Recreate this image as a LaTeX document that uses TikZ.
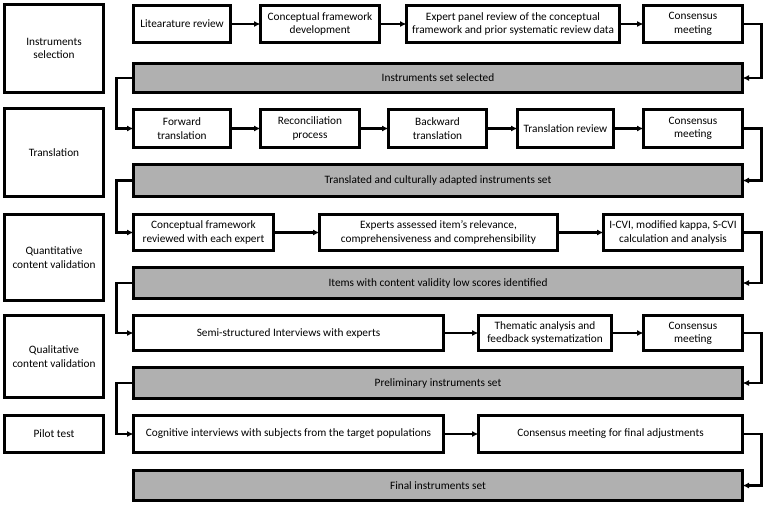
\documentclass[tikz,border=0pt]{standalone}
\usepackage{fontspec}
\setmainfont{Carlito}
\usetikzlibrary{arrows.meta}
\definecolor{barfill}{RGB}{176,176,176}
\begin{document}
\begin{tikzpicture}[x=1pt,y=-1pt,
  every node/.style={font=\fontsize{11.3}{13.4}\selectfont, align=center, inner sep=0pt, outer sep=0pt},
  stepbox/.style={draw=black, line width=3pt, fill=white},
  phase/.style={stepbox},
  resultbar/.style={draw=black, line width=3pt, fill=barfill, minimum width=609pt},
  conn/.style={line width=2.4pt, -{Latex[length=6.5pt,width=6pt]}}]
\useasboundingbox (0,0) rectangle (767,507);

% phase labels (left column)
\node[phase, minimum width=99pt, minimum height=88pt] (L1) at (54,48.5) {Instruments\\selection};
\node[phase, minimum width=99pt, minimum height=88pt] (L2) at (54,152.5) {Translation};
\node[phase, minimum width=99pt, minimum height=86pt] (L3) at (54,257.5) {Quantitative\\content validation};
\node[phase, minimum width=99pt, minimum height=82pt] (L4) at (54,356.5) {Qualitative\\content validation};
\node[phase, minimum width=99pt, minimum height=37pt] (L5) at (54,434) {Pilot test};

% instruments selection
\node[stepbox, minimum width=97pt, minimum height=37pt] (a1) at (182,24) {Litearature review};
\node[stepbox, minimum width=119pt, minimum height=37pt] (a2) at (320,24) {Conceptual framework\\development};
\node[stepbox, minimum width=213pt, minimum height=37pt] (a3) at (513,24) {Expert panel review of the conceptual\\framework and prior systematic review data};
\node[stepbox, minimum width=99pt, minimum height=37pt] (a4) at (693,24) {Consensus\\meeting};
\node[resultbar, minimum height=29pt] (bar1) at (438,78) {Instruments set selected};

% translation
\node[stepbox, minimum width=97pt, minimum height=38pt] (b1) at (182,128.5) {Forward\\translation};
\node[stepbox, minimum width=99pt, minimum height=38pt] (b2) at (310,128.5) {Reconciliation\\process};
\node[stepbox, minimum width=98pt, minimum height=38pt] (b3) at (437.5,128.5) {Backward\\translation};
\node[stepbox, minimum width=96pt, minimum height=38pt] (b4) at (565.5,128.5) {Translation review};
\node[stepbox, minimum width=99pt, minimum height=38pt] (b5) at (693,128.5) {Consensus\\meeting};
\node[resultbar, minimum height=32pt] (bar2) at (438,180.5) {Translated and culturally adapted instruments set};

% quantitative content validation
\node[stepbox, minimum width=140pt, minimum height=36pt] (c1) at (203.5,232.5) {Conceptual framework\\reviewed with each expert};
\node[stepbox, minimum width=238pt, minimum height=36pt] (c2) at (438.5,232.5) {Experts assessed item’s relevance,\\comprehensiveness and comprehensibility};
\node[stepbox, minimum width=139pt, minimum height=36pt] (c3) at (673,232.5) {I-CVI, modified kappa, S-CVI\\calculation and analysis};
\node[resultbar, minimum height=31pt] (bar3) at (438,283) {Items with content validity low scores identified};

% qualitative content validation
\node[stepbox, minimum width=310pt, minimum height=35pt] (d1) at (288.5,333) {Semi-structured Interviews with experts};
\node[stepbox, minimum width=133pt, minimum height=35pt] (d2) at (545,333) {Thematic analysis and\\feedback systematization};
\node[stepbox, minimum width=99pt, minimum height=35pt] (d3) at (693,333) {Consensus\\meeting};
\node[resultbar, minimum height=31pt] (bar4) at (438,383) {Preliminary instruments set};

% pilot test
\node[stepbox, minimum width=310pt, minimum height=37pt] (e1) at (288.5,434) {Cognitive interviews with subjects from the target populations};
\node[stepbox, minimum width=264pt, minimum height=37pt] (e2) at (610.5,434) {Consensus meeting for final adjustments};
\node[resultbar, minimum height=30pt] (bar5) at (438,485.5) {Final instruments set};

% arrows within each row
\draw[conn] (a1) -- (a2);
\draw[conn] (a2) -- (a3);
\draw[conn] (a3) -- (a4);
\draw[conn] (b1) -- (b2);
\draw[conn] (b2) -- (b3);
\draw[conn] (b3) -- (b4);
\draw[conn] (b4) -- (b5);
\draw[conn] (c1) -- (c2);
\draw[conn] (c2) -- (c3);
\draw[conn] (d1) -- (d2);
\draw[conn] (d2) -- (d3);
\draw[conn] (e1) -- (e2);

% last step of a row down into its result bar
\draw[conn] (a4.east) -- ++(19,0) |- (bar1.east);
\draw[conn] (b5.east) -- ++(19,0) |- (bar2.east);
\draw[conn] (c3.east) -- ++(19,0) |- (bar3.east);
\draw[conn] (d3.east) -- ++(19,0) |- (bar4.east);
\draw[conn] (e2.east) -- ++(19,0) |- (bar5.east);

% result bar feeding the next row
\draw[conn] (bar1.west) -- ++(-17,0) |- (b1.west);
\draw[conn] (bar2.west) -- ++(-17,0) |- (c1.west);
\draw[conn] (bar3.west) -- ++(-17,0) |- (d1.west);
\draw[conn] (bar4.west) -- ++(-17,0) |- (e1.west);
\end{tikzpicture}
\end{document}
